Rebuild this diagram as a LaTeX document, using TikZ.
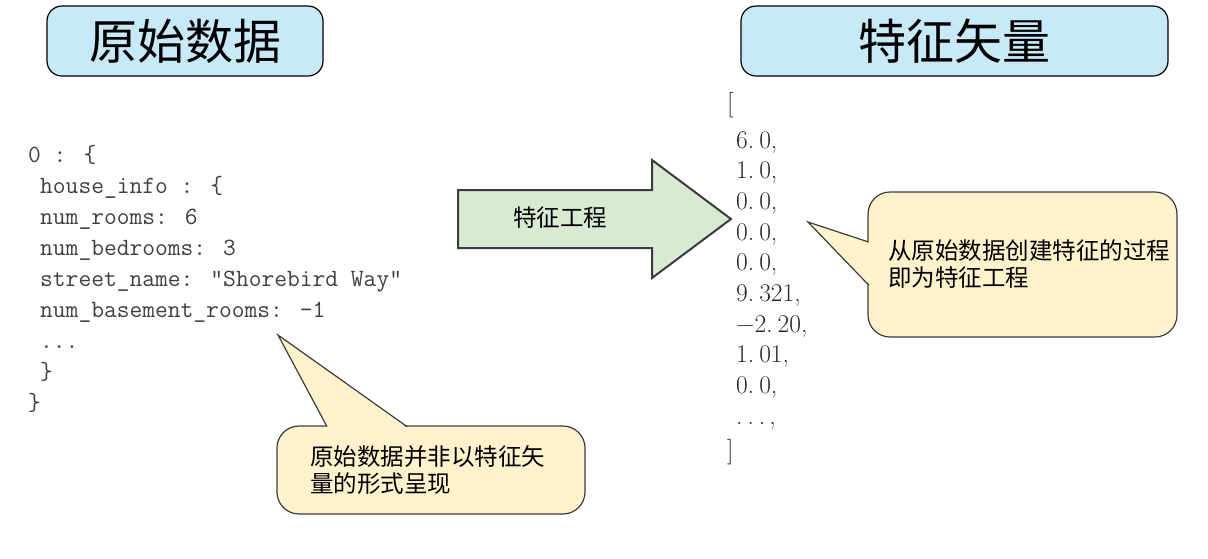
\documentclass[tikz,border=0pt]{standalone}
\usepackage{fontspec}
\newfontfamily\cjk{Noto Sans CJK SC}
\definecolor{titleblue}{RGB}{199,233,248}
\definecolor{arrowgreen}{RGB}{217,234,211}
\definecolor{noteyellow}{RGB}{255,242,204}
\definecolor{codegray}{RGB}{64,64,64}
\definecolor{numgray}{RGB}{40,40,40}
\definecolor{edgegray}{RGB}{60,60,60}
\begin{document}
\begin{tikzpicture}[x=1pt,y=-1pt,
  titlebox/.style={draw=black, line width=1.2pt, fill=titleblue, rounded corners=15pt,
    minimum height=70pt, inner sep=0pt, font=\cjk\fontsize{48}{48}\selectfont},
  bigarrow/.style={draw=edgegray, line width=2pt, fill=arrowgreen, line join=miter},
  calloutbox/.style={draw=edgegray, line width=1.2pt, fill=noteyellow, rounded corners=22pt},
  pointerfill/.style={fill=noteyellow},
  pointeredge/.style={draw=edgegray, line width=1.2pt, line join=miter},
  notetext/.style={anchor=west, inner sep=0pt, align=left, text=black,
    font=\cjk\fontsize{23.5}{27}\selectfont},
  codeline/.style={anchor=base west, inner sep=0pt, text=codegray,
    font=\ttfamily\fontsize{24.8}{31}\selectfont},
  numline/.style={anchor=base west, inner sep=0pt, text=numgray,
    font=\rmfamily\fontsize{25.5}{31}\selectfont}]
\useasboundingbox (0,0) rectangle (1208,558);

% titles
\node[titlebox, minimum width=276pt] (rawtitle) at (185,41) {原始数据};
\node[titlebox, minimum width=427pt] (vectitle) at (954.5,41) {特征矢量};

% big arrow
\draw[bigarrow] (458,190) -- (652,190) -- (652,160) -- (731,219) -- (652,278) -- (652,248) -- (458,248) -- cycle;
\node[inner sep=0pt, font=\cjk\fontsize{23.5}{23.5}\selectfont] (fe) at (560,218) {特征工程};

% raw data code
\node[codeline] (c0) at (28,162) {0 : \{};
\node[codeline] (c1) at (40,193) {house\_info : \{};
\node[codeline] (c2) at (40,224) {num\_rooms: 6};
\node[codeline] (c3) at (40,255) {num\_bedrooms: 3};
\node[codeline] (c4) at (40,286) {street\_name: ”Shorebird Way”};
\node[codeline] (c5) at (40,317) {num\_basement\_rooms: -1};
\node[codeline] (c6) at (40,348) {...};
\node[codeline] (c7) at (40,379) {\}};
\node[codeline] (c8) at (28,410) {\}};

% feature vector
\node[numline] (v0) at (727,111) {[};
\node[numline] (v1) at (736,148) {6.\kern5pt 0,};
\node[numline] (v2) at (736,178.7) {1.\kern5pt 0,};
\node[numline] (v3) at (736,209.4) {0.\kern5pt 0,};
\node[numline] (v4) at (736,240.1) {0.\kern5pt 0,};
\node[numline] (v5) at (736,270.8) {0.\kern5pt 0,};
\node[numline] (v6) at (736,301.5) {9.\kern5pt 321,};
\node[numline] (v7) at (736,332.2) {−2.\kern5pt 20,};
\node[numline] (v8) at (736,362.9) {1.\kern5pt 01,};
\node[numline] (v9) at (736,393.6) {0.\kern5pt 0,};
\node[numline] (v10) at (736,424.3) {.\kern5pt.\kern5pt.\kern4pt,};
\node[numline] (v11) at (727,458) {]};

% callout 1
\draw[calloutbox] (277,426) rectangle (585,514);
\fill[pointerfill] (327,428) -- (278,335) -- (407,428) -- cycle;
\draw[pointeredge] (327,426.6) -- (278,335) -- (407,426.6);
\node[notetext] (note1) at (310,470.5) {原始数据并非以特征矢\\量的形式呈现};

% callout 2
\draw[calloutbox] (868,192) rectangle (1177,337);
\fill[pointerfill] (870,285) -- (808,222) -- (870,242) -- cycle;
\draw[pointeredge] (868.6,285) -- (808,222) -- (868.6,242);
\node[notetext] (note2) at (888,264.5) {从原始数据创建特征的过程\\即为特征工程};
\end{tikzpicture}
\end{document}
